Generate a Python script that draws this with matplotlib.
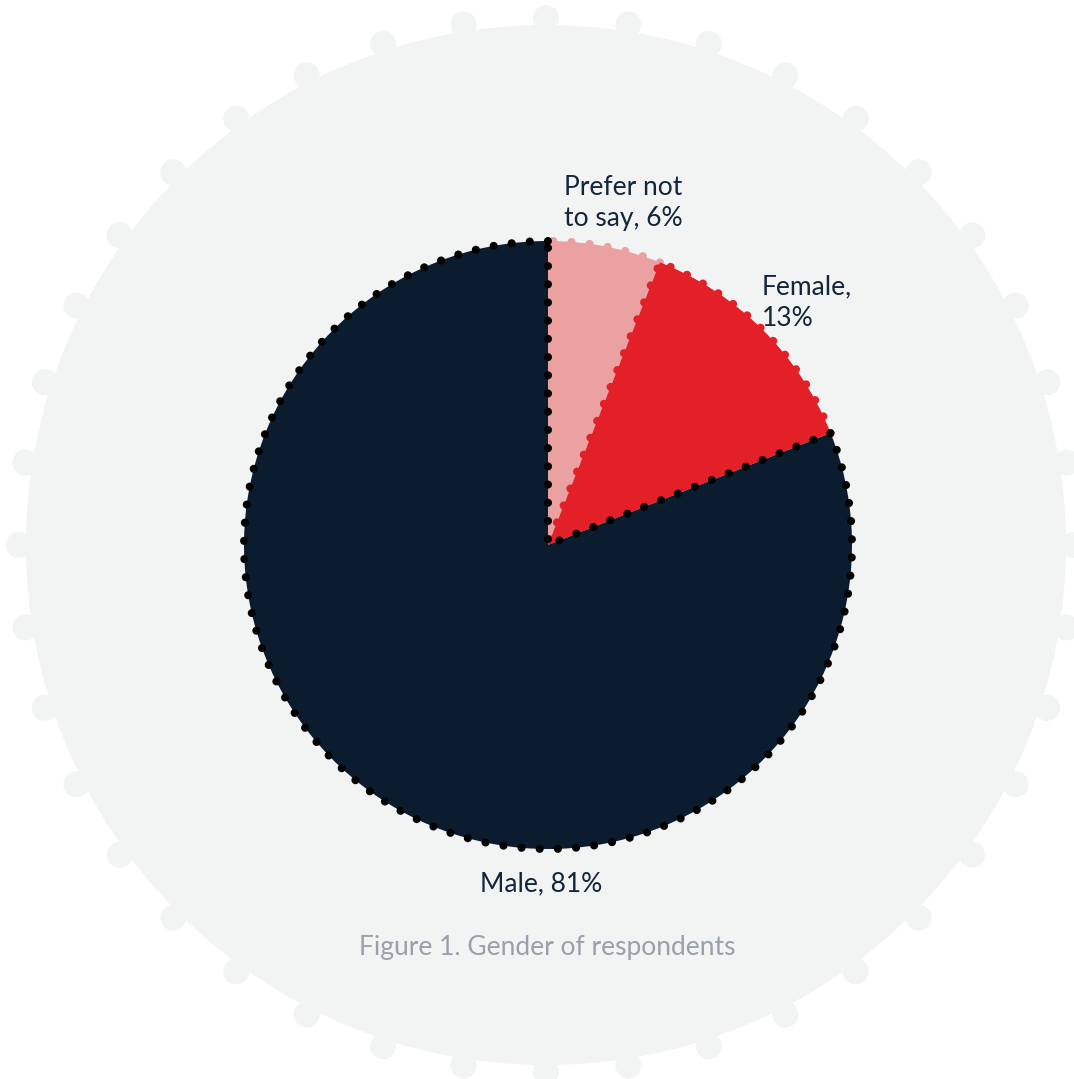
import matplotlib.pyplot as plt
import numpy as np
from matplotlib.patches import Circle

plt.rcParams['font.family'] = ['Lato', 'DejaVu Sans']

# Gender of respondents (%)
categories = ["Prefer not to say", "Female", "Male"]
shares = [6, 13, 81]
label_text = ["Prefer not\nto say, 6%", "Female,\n13%", "Male, 81%"]
slice_colors = ["#eba0a2", "#e32028", "#0a1c2e"]
edge_colors = ["#eba0a2", "#e32028", "#000000"]

W, H = 1074, 1079
fig = plt.figure(figsize=(W / 100, H / 100), dpi=100)
ax = fig.add_axes([0, 0, 1, 1])

# light badge-like backdrop with small bumps around the rim
bg = "#f2f3f3"
cx, cy = 546, H - 545
ax.add_patch(Circle((cx, cy), 520, color=bg, lw=0, zorder=0))
for a in np.deg2rad(np.arange(0, 360, 9)):
    ax.add_patch(Circle((cx + 527 * np.cos(a), cy + 527 * np.sin(a)), 13,
                        color=bg, lw=0, zorder=0))

wedges, _ = ax.pie(shares, colors=slice_colors, startangle=90, counterclock=False,
                   center=(548, H - 545), radius=304, frame=True)
# dotted rims: tiny dashes with round caps become dots
for i, (w, ec) in enumerate(zip(wedges, edge_colors)):
    w.set_edgecolor(ec)
    w.set_linewidth(5.8)
    w.set_linestyle((0, (0.01, 2.25)))
    w.set_capstyle('round')
    w.set_joinstyle('round')
    w.set_zorder(2 + i)

txt = "#14263a"
ax.text(564, H - 203, label_text[0], fontsize=19, color=txt, ha="left", va="center",
        linespacing=1.33)
ax.text(762, H - 303, label_text[1], fontsize=19, color=txt, ha="left", va="center",
        linespacing=1.33)
ax.text(541, H - 884, label_text[2], fontsize=19, color=txt, ha="center", va="center")
ax.text(547, H - 948, "Figure 1. Gender of respondents", fontsize=19, color="#98a1aa",
        ha="center", va="center")

ax.set_xlim(0, W)
ax.set_ylim(0, H)
ax.set_aspect('equal')
ax.axis('off')
fig.savefig("out.png", dpi=100, facecolor="white")
